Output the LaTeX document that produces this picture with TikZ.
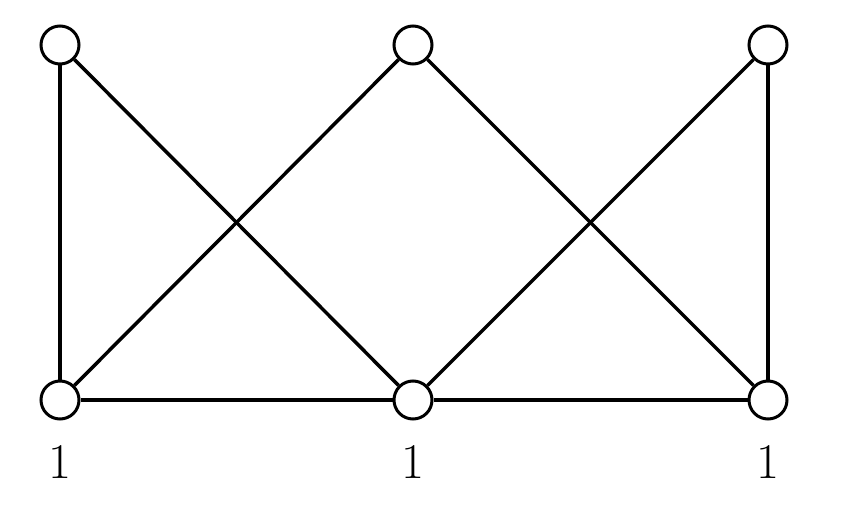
\documentclass[tikz,border=0pt]{standalone}
\begin{document}
\begin{tikzpicture}[x=1pt,y=-1pt,
  vtx/.style={circle,draw,line width=3pt,minimum size=38pt,inner sep=0pt,fill=white},
  edge/.style={line width=3.5pt},
  lab/.style={font=\fontsize{50}{60}\selectfont}]
\useasboundingbox (0,0) rectangle (844,511);
\node[vtx] (t1) at (60,45) {};
\node[vtx] (t2) at (413,45) {};
\node[vtx] (t3) at (768,45) {};
\node[vtx] (b1) at (60,400) {};
\node[vtx] (b2) at (413,400) {};
\node[vtx] (b3) at (768,400) {};
\begin{scope}[on background layer/.style={}]
\draw[edge] (t1) -- (b1);
\draw[edge] (t1) -- (b2);
\draw[edge] (t2) -- (b1);
\draw[edge] (t2) -- (b3);
\draw[edge] (t3) -- (b2);
\draw[edge] (t3) -- (b3);
\draw[edge] (b1) -- (b2);
\draw[edge] (b2) -- (b3);
\end{scope}
\node[lab] (l1) at (60,462) {1};
\node[lab] (l2) at (413,462) {1};
\node[lab] (l3) at (768,462) {1};
\end{tikzpicture}
\end{document}
